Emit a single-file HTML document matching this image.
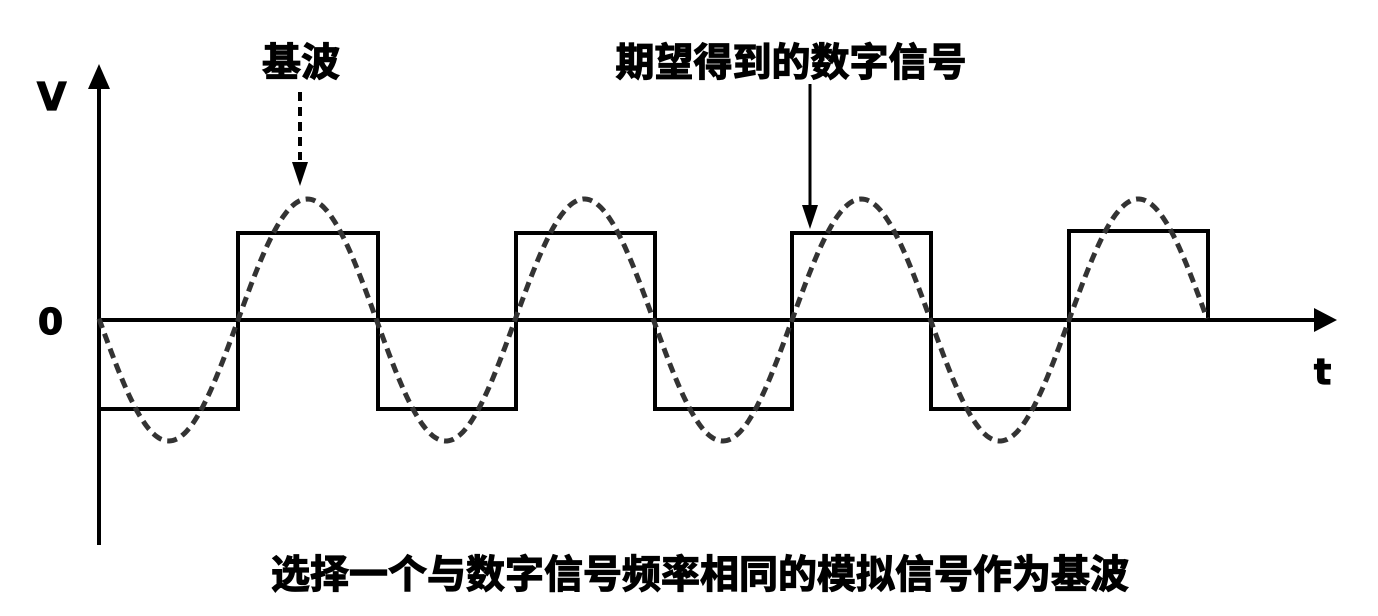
<!DOCTYPE html>
<html><head><meta charset="utf-8"><style>
html,body{margin:0;padding:0;background:#fff;}
svg{display:block;}
text{font-family:"Liberation Sans","Noto Sans CJK SC",sans-serif;font-weight:bold;fill:#000;}
.c{stroke:#000;stroke-width:1.2px;}
.l{font-family:"DejaVu Sans",sans-serif;}
</style></head><body>
<svg id="s" width="1378" height="616" viewBox="0 0 1378 616">
<line x1="99" y1="545" x2="99" y2="85" stroke="#000" stroke-width="4"/>
<polygon points="99,64 88,89 110,89" fill="#000"/>
<line x1="99" y1="320" x2="1318" y2="320" stroke="#000" stroke-width="4"/>
<polygon points="1337,320 1314,308 1314,332" fill="#000"/>
<polyline fill="none" stroke="#000" stroke-width="4" points="99,409 238,409 238,233 378,233 378,409 516,409 516,233 655,233 655,409 792,409 792,233 931,233 931,409 1069,409 1069,231 1208,231 1208,320"/>
<path id="sine" fill="none" stroke="#333" stroke-width="5" stroke-dasharray="10,6"/>
<line x1="300" y1="92" x2="300" y2="160" stroke="#000" stroke-width="4" stroke-dasharray="9,6"/>
<polygon points="300,186 292,162 308,162" fill="#000"/>
<line x1="810" y1="84" x2="810" y2="210" stroke="#000" stroke-width="3"/>
<polygon points="810,229 802,205 818,205" fill="#000"/>
<text class="l c" x="37" y="110" font-size="38">V</text>
<text class="l c" x="38" y="334" font-size="36">0</text>
<text class="l c" x="1314" y="384" font-size="36">t</text>
<text class="c" x="301" y="76" font-size="39" text-anchor="middle">基波</text>
<text class="c" x="791" y="76" font-size="39" text-anchor="middle">期望得到的数字信号</text>
<text class="c" x="700" y="588" font-size="39" text-anchor="middle">选择一个与数字信号频率相同的模拟信号作为基波</text>
</svg>
<script>
var d="";for(var x=99;x<=1208;x+=2){var y=320-121*Math.sin((x-238)/277*2*Math.PI);d+=(x==99?"M":"L")+x+","+y.toFixed(1);}
document.getElementById("sine").setAttribute("d",d);
</script>
</body></html>
